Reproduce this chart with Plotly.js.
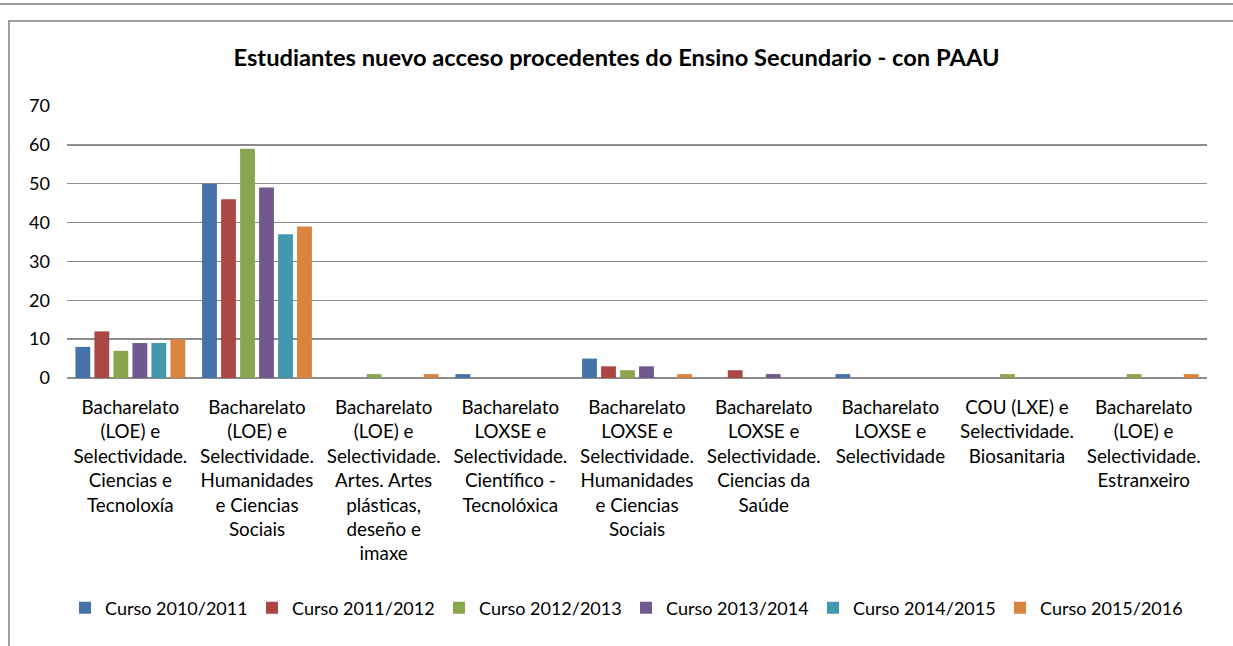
<!DOCTYPE html>
<html><head><meta charset="utf-8">
<script src="https://cdn.plot.ly/plotly-3.0.1.min.js"></script>
<style>
body{margin:0;padding:0;background:#fff;}
#wrap{position:relative;width:1233px;height:646px;overflow:hidden;}
#chart{position:absolute;left:0;top:0;width:1233px;height:646px;}
#l1{position:absolute;left:0;top:3px;width:1233px;height:0;border-top:2px solid #a0a0a0;}
#box{position:absolute;left:8px;top:20px;width:1240px;height:640px;border:2px solid #a0a0a0;}
</style></head>
<body><div id="wrap"><div id="l1"></div><div id="box"></div><div id="chart"></div></div>
<script>
const categories = [
 "Bacharelato (LOE) e Selectividade. Ciencias e Tecnoloxía",
 "Bacharelato (LOE) e Selectividade. Humanidades e Ciencias Sociais",
 "Bacharelato (LOE) e Selectividade. Artes. Artes plásticas, deseño e imaxe",
 "Bacharelato LOXSE e Selectividade. Científico - Tecnolóxica",
 "Bacharelato LOXSE e Selectividade. Humanidades e Ciencias Sociais",
 "Bacharelato LOXSE e Selectividade. Ciencias da Saúde",
 "Bacharelato LOXSE e Selectividade",
 "COU (LXE) e Selectividade. Biosanitaria",
 "Bacharelato (LOE) e Selectividade. Estranxeiro"
];
const tickLabels = [
 "Bacharelato<br>(LOE) e<br>Selectividade.<br>Ciencias e<br>Tecnoloxía",
 "Bacharelato<br>(LOE) e<br>Selectividade.<br>Humanidades<br>e Ciencias<br>Sociais",
 "Bacharelato<br>(LOE) e<br>Selectividade.<br>Artes. Artes<br>plásticas,<br>deseño e<br>imaxe",
 "Bacharelato<br>LOXSE e<br>Selectividade.<br>Científico -<br>Tecnolóxica",
 "Bacharelato<br>LOXSE e<br>Selectividade.<br>Humanidades<br>e Ciencias<br>Sociais",
 "Bacharelato<br>LOXSE e<br>Selectividade.<br>Ciencias da<br>Saúde",
 "Bacharelato<br>LOXSE e<br>Selectividade",
 "COU (LXE) e<br>Selectividade.<br>Biosanitaria",
 "Bacharelato<br>(LOE) e<br>Selectividade.<br>Estranxeiro"
];
const seriesNames = ["Curso 2010/2011","Curso 2011/2012","Curso 2012/2013","Curso 2013/2014","Curso 2014/2015","Curso 2015/2016"];
const curso2010 = [8, 50, 0, 1, 5, 0, 1, 0, 0];
const curso2011 = [12, 46, 0, 0, 3, 2, 0, 0, 0];
const curso2012 = [7, 59, 1, 0, 2, 0, 0, 1, 1];
const curso2013 = [9, 49, 0, 0, 3, 1, 0, 0, 0];
const curso2014 = [9, 37, 0, 0, 0, 0, 0, 0, 0];
const curso2015 = [10, 39, 1, 0, 1, 0, 0, 0, 1];
const yTicks = [0,10,20,30,40,50,60,70];

const colors = ["#4572A7","#AA4643","#89A54E","#71588F","#4198AF","#DB843D"];
const allSeries = [curso2010,curso2011,curso2012,curso2013,curso2014,curso2015];
const font = "Lato, 'Open Sans', sans-serif";
const traces = allSeries.map((vals,i)=>({
  type:'bar', name:seriesNames[i], x:categories, y:vals,
  marker:{color:colors[i], line:{width:0}}, hoverinfo:'y'
}));
const layout = {
  width:1233, height:646,
  margin:{l:67, r:26, t:106, b:268, autoexpand:false},
  paper_bgcolor:'rgba(0,0,0,0)', plot_bgcolor:'rgba(0,0,0,0)',
  title:{text:'<b>Estudiantes nuevo acceso procedentes do Ensino Secundario - con PAAU</b>',
    font:{family:font, size:23.7, color:'#000'}, x:0.5, xanchor:'center', y:1-58/646, yanchor:'middle'},
  barmode:'group', bargap:0.1, bargroupgap:0.22,
  xaxis:{type:'category', tickvals:categories, ticktext:tickLabels, tickangle:0,
    tickfont:{family:font, size:18.8, color:'#000'}, showgrid:false, showline:false, ticks:'',
    ticklabelstandoff:16, automargin:false},
  yaxis:{range:[0,70], tickvals:yTicks, tickfont:{family:font, size:18, color:'#000'},
    showgrid:true, gridcolor:'#8c8c8c', gridwidth:1.5, zeroline:true, zerolinecolor:'#8c8c8c', zerolinewidth:1.5,
    showline:false, ticks:'', ticklabelstandoff:16, automargin:false},
  legend:{orientation:'h', x:(626-67)/1140, xanchor:'center', y:-(608-378)/272, yanchor:'middle',
    font:{family:font, size:18, color:'#000'}, itemwidth:30, traceorder:'normal',
    entrywidth:142, entrywidthmode:'pixels'},
  showlegend:true
};
Plotly.newPlot('chart', traces, layout, {displayModeBar:false, staticPlot:true});
</script></body></html>
